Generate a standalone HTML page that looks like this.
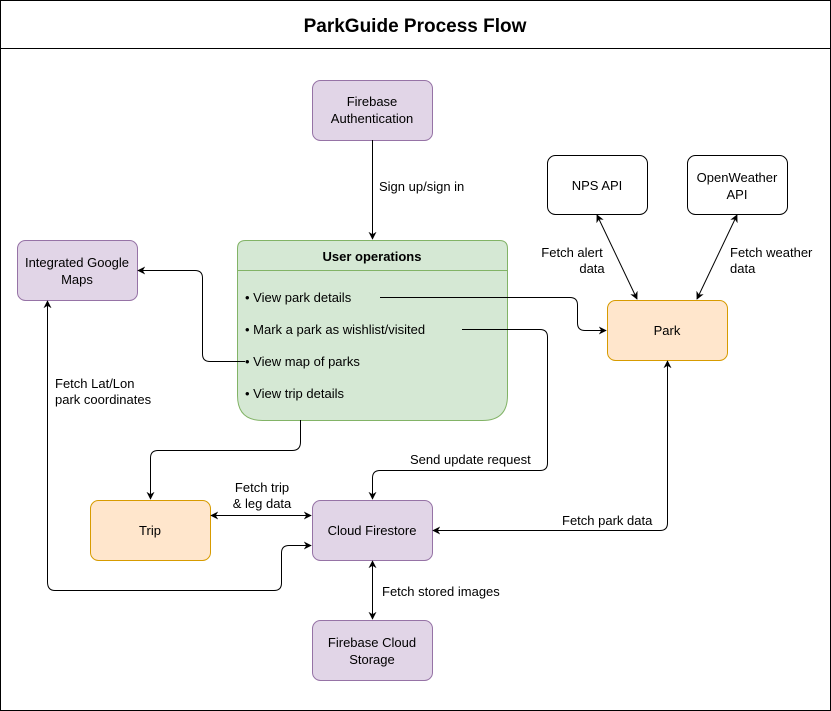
<!DOCTYPE html>
<html><head><meta charset="utf-8"><style>
html,body{margin:0;padding:0;background:#fff;}
svg{display:block;font-family:"Liberation Sans",Arial,sans-serif;}
</style></head><body>
<svg width="831" height="711" viewBox="0 0 831 711" xmlns="http://www.w3.org/2000/svg">
<defs>
<marker id="a" viewBox="0 0 10 10" refX="9" refY="5" markerWidth="8" markerHeight="8" orient="auto-start-reverse"><path d="M0,0 L10,5 L0,10 L3,5 z" fill="#000"/></marker>
</defs>
<rect x="0.5" y="0.5" width="830" height="710" fill="#fff" stroke="#000"/>
<line x1="0" y1="48.5" x2="831" y2="48.5" stroke="#000"/>
<text x="415" y="32" text-anchor="middle" font-size="19" font-weight="bold">ParkGuide Process Flow</text>

<g font-size="13" text-anchor="middle">
<rect x="312.5" y="80.5" width="120" height="60" rx="8" fill="#e1d5e7" stroke="#9673a6"/>
<text x="372" y="106">Firebase</text><text x="372" y="123">Authentication</text>
<rect x="547.5" y="155.5" width="100" height="59" rx="8" fill="#fff" stroke="#000"/>
<text x="597" y="190">NPS API</text>
<rect x="687.5" y="155.5" width="100" height="59" rx="8" fill="#fff" stroke="#000"/>
<text x="737" y="182">OpenWeather</text><text x="737" y="199">API</text>
<rect x="17.5" y="240.5" width="120" height="60" rx="8" fill="#e1d5e7" stroke="#9673a6"/>
<text x="77" y="267">Integrated Google</text><text x="77" y="284">Maps</text>
<path d="M245.5,240.5 H499.5 Q507.5,240.5 507.5,248.5 V395.5 Q507.5,420.5 482.5,420.5 H262.5 Q237.5,420.5 237.5,395.5 V248.5 Q237.5,240.5 245.5,240.5 Z" fill="#d5e8d4" stroke="#82b366"/>
<line x1="237.5" y1="270.5" x2="507.5" y2="270.5" stroke="#82b366"/>
<text x="372" y="261" font-weight="bold">User operations</text>
<rect x="607.5" y="300.5" width="120" height="60" rx="8" fill="#ffe6cc" stroke="#d79b00"/>
<text x="667" y="335">Park</text>
<rect x="90.5" y="500.5" width="120" height="60" rx="8" fill="#ffe6cc" stroke="#d79b00"/>
<text x="150" y="535">Trip</text>
<rect x="312.5" y="500.5" width="120" height="60" rx="8" fill="#e1d5e7" stroke="#9673a6"/>
<text x="372" y="535">Cloud Firestore</text>
<rect x="312.5" y="620.5" width="120" height="60" rx="8" fill="#e1d5e7" stroke="#9673a6"/>
<text x="372" y="647">Firebase Cloud</text><text x="372" y="664">Storage</text>
</g>

<g font-size="13">
<text x="245" y="302">• View park details</text>
<text x="245" y="334">• Mark a park as wishlist/visited</text>
<text x="245" y="366">• View map of parks</text>
<text x="245" y="398">• View trip details</text>
</g>

<g fill="none" stroke="#000" stroke-width="1">
<path d="M372.5,140 V239" marker-end="url(#a)"/>
<path d="M597,215 L637,299" marker-start="url(#a)" marker-end="url(#a)"/>
<path d="M737,215 L697,299" marker-start="url(#a)" marker-end="url(#a)"/>
<path d="M380,297.5 H570 Q577.5,297.5 577.5,305 V323 Q577.5,330.5 585,330.5 H606" marker-end="url(#a)"/>
<path d="M462,329.5 H540 Q547.5,329.5 547.5,337 V463 Q547.5,470.5 540,470.5 H380 Q372.5,470.5 372.5,478 V499" marker-end="url(#a)"/>
<path d="M245,361.5 H210 Q202.5,361.5 202.5,354 V278 Q202.5,270.5 195,270.5 H138" marker-end="url(#a)"/>
<path d="M300.5,420 V442 Q300.5,450.5 292,450.5 H158 Q150.5,450.5 150.5,458 V499" marker-end="url(#a)"/>
<path d="M211,515.5 H311" marker-start="url(#a)" marker-end="url(#a)"/>
<path d="M433,530.5 H660 Q667.5,530.5 667.5,523 V361" marker-start="url(#a)" marker-end="url(#a)"/>
<path d="M372.5,561 V619" marker-start="url(#a)" marker-end="url(#a)"/>
<path d="M47.5,301 V582 Q47.5,590.5 55,590.5 H274 Q281.5,590.5 281.5,583 V553 Q281.5,545.5 289,545.5 H311" marker-start="url(#a)" marker-end="url(#a)"/>
</g>

<g font-size="13">
<rect x="377" y="178" width="122" height="16" fill="#fff"/>
<text x="379" y="191">Sign up/sign in</text>
<text x="572" y="257" text-anchor="middle">Fetch alert</text>
<text x="592" y="273" text-anchor="middle">data</text>
<text x="730" y="257">Fetch weather</text>
<text x="730" y="273">data</text>
<rect x="408" y="451" width="134" height="16" fill="#fff"/>
<text x="410" y="464">Send update request</text>
<text x="262" y="492" text-anchor="middle">Fetch trip</text>
<text x="262" y="508" text-anchor="middle">&amp; leg data</text>
<rect x="560" y="512" width="100" height="16" fill="#fff"/>
<text x="562" y="525">Fetch park data</text>
<text x="382" y="596">Fetch stored images</text>
<text x="55" y="388">Fetch Lat/Lon</text>
<text x="55" y="404">park coordinates</text>
</g>
</svg>
</body></html>
